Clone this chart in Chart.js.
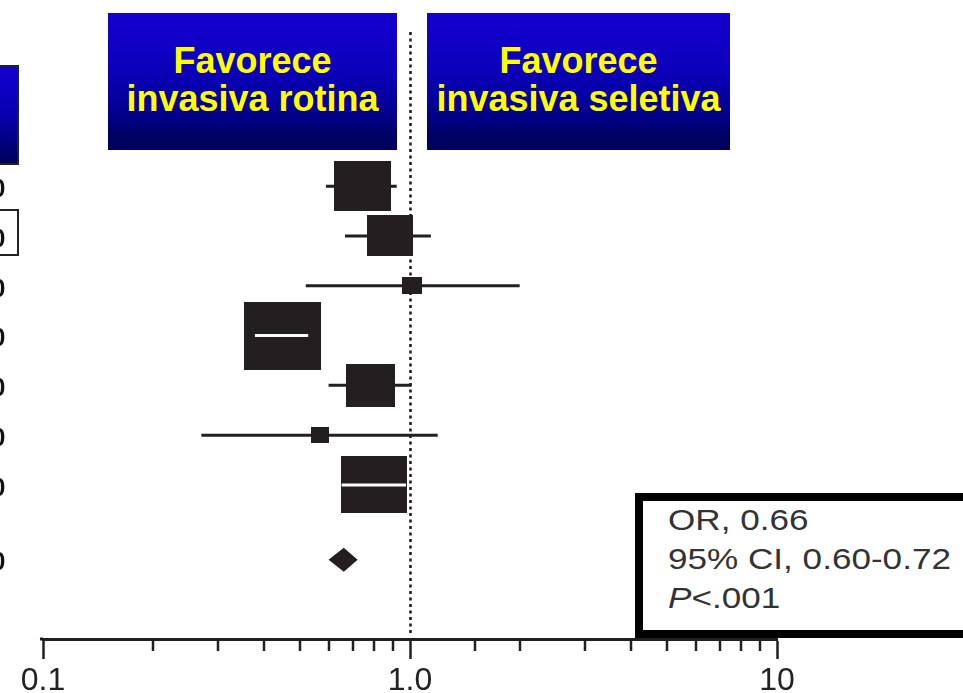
<!DOCTYPE html>
<html>
<head>
<meta charset="utf-8">
<script src="https://cdn.jsdelivr.net/npm/chart.js@4.4.1/dist/chart.umd.min.js"></script>
<style>
html,body{margin:0;padding:0;background:#fff;overflow:hidden;}
#wrap{position:relative;width:963px;height:693px;overflow:hidden;font-family:"Liberation Sans",Arial,Helvetica,sans-serif;background:#fff;}
#chart{position:absolute;left:0;top:0;}
.hdr{position:absolute;top:13px;height:137px;background:linear-gradient(to bottom,#1400d0 0%,#0c00bc 40%,#0500a0 62%,#00007e 80%,#000064 88%,#00005c 100%);}
.hdr div{position:absolute;left:0;right:0;top:29px;text-align:center;color:#ffff00;font-weight:bold;font-size:36px;line-height:38px;white-space:nowrap;}
#edgeBox{position:absolute;left:-20px;top:65px;width:35px;height:96px;border:2px solid #222;background:linear-gradient(to bottom,#1400d0 0%,#0800b0 50%,#000070 85%,#00005c 100%);}
#edgeBox2{position:absolute;left:-20px;top:209px;width:35px;height:43px;border:2px solid #222;background:#fff;}
.cut{position:absolute;left:-8.5px;font-weight:bold;font-size:25px;line-height:25px;color:#111;white-space:nowrap;}
#stats{position:absolute;left:635px;top:493px;width:400px;height:129px;border:8px solid #000;background:#fff;}
#statsText{position:absolute;left:668px;top:500px;font-size:30px;line-height:39px;color:#333;white-space:nowrap;transform:scaleX(1.17);transform-origin:0 0;}
</style>
</head>
<body>
<div id="wrap">
  <canvas id="chart" width="963" height="693"></canvas>
  <div id="edgeBox"></div>
  <div id="edgeBox2"></div>
  <div class="hdr" style="left:108px;width:289px;"><div>Favorece<br>invasiva rotina</div></div>
  <div class="hdr" style="left:427px;width:303px;"><div>Favorece<br>invasiva seletiva</div></div>
  <div id="stats"></div>
  <div id="statsText">OR, 0.66<br>95% CI, 0.60-0.72<br><i>P</i>&lt;.001</div>
</div>
<script>
// ---- data ----
const studies  = ["Estudo 1","Estudo 2","Estudo 3","Estudo 4","Estudo 5","Estudo 6","Estudo 7"];
const orValues = [0.74, 0.88, 1.01, 0.45, 0.78, 0.57, 0.80];
const ciLow    = [0.59, 0.665, 0.52, 0.378, 0.60, 0.27, 0.65];
const ciHigh   = [0.92, 1.14, 1.99, 0.528, 1.01, 1.19, 0.975];
const weights  = [17.2, 11.5, 2.1, 31.8, 12.8, 1.7, 22.9];
const pooledOR = 0.66, pooledLow = 0.60, pooledHigh = 0.72;
const refValue = 1;
const tickValues = [0.1, 1, 10];
const tickLabels = ["0.1", "1.0", "10"];

// ---- styling ----
const INK = '#231f20';
const KW = 13.7, KH = 12.0;          // box px per sqrt(weight)
const pooledRow = studies.length + 0.5;

const boxCache = {};
function boxCanvas(i){
  if (boxCache[i]) return boxCache[i];
  const s = Math.sqrt(weights[i]);
  const c = document.createElement('canvas');
  c.width = Math.max(2, Math.round(KW * s));
  c.height = Math.max(2, Math.round(KH * s));
  const g = c.getContext('2d');
  g.fillStyle = INK;
  g.fillRect(0, 0, c.width, c.height);
  boxCache[i] = c;
  return c;
}

const datasets = [];
studies.forEach((name, i) => {
  datasets.push({
    type: 'line',
    label: name + ' IC',
    data: [{x: ciLow[i], y: i}, {x: ciHigh[i], y: i}],
    borderColor: INK,
    borderWidth: 3,
    pointRadius: 0,
    fill: false,
    order: 2
  });
});
datasets.push({
  type: 'scatter',
  label: 'OR',
  data: orValues.map((v, i) => ({x: v, y: i})),
  pointStyle: (ctx) => boxCanvas(ctx.dataIndex),
  pointRadius: 5,
  order: 1
});

const forestPlugin = {
  id: 'forest',
  beforeDatasetsDraw(chart){
    const {ctx, chartArea, scales:{x}} = chart;
    const px = Math.round(x.getPixelForValue(refValue)) + 0.5;
    ctx.save();
    ctx.strokeStyle = INK;
    ctx.lineWidth = 2.6;
    ctx.setLineDash([3, 3.5]);
    ctx.beginPath();
    ctx.moveTo(px, 32);
    ctx.lineTo(px, chartArea.bottom - 3);
    ctx.stroke();
    ctx.restore();
  },
  afterDatasetsDraw(chart){
    const {ctx, scales:{x, y}} = chart;
    ctx.save();
    // white CI line where the interval lies inside its box
    studies.forEach((n, i) => {
      const cx = x.getPixelForValue(orValues[i]);
      const hw = KW * Math.sqrt(weights[i]) / 2;
      const lo = x.getPixelForValue(ciLow[i]);
      const hi = x.getPixelForValue(ciHigh[i]);
      if (lo >= cx - hw - 1.5 && hi <= cx + hw + 1.5) {
        const py = y.getPixelForValue(i);
        ctx.strokeStyle = '#ffffff';
        ctx.lineWidth = 3;
        ctx.beginPath();
        ctx.moveTo(Math.max(lo, cx - hw), py);
        ctx.lineTo(Math.min(hi, cx + hw), py);
        ctx.stroke();
      }
    });
    // pooled diamond
    const py = y.getPixelForValue(pooledRow);
    const l = x.getPixelForValue(pooledLow), c = x.getPixelForValue(pooledOR), r = x.getPixelForValue(pooledHigh);
    ctx.fillStyle = INK;
    ctx.beginPath();
    ctx.moveTo(l, py);
    ctx.lineTo(c, py - 12);
    ctx.lineTo(r, py);
    ctx.lineTo(c, py + 12);
    ctx.closePath();
    ctx.fill();
    ctx.restore();
  },
  afterDraw(chart){
    const {ctx, scales:{x}} = chart;
    ctx.save();
    ctx.strokeStyle = INK;
    ctx.lineWidth = 2.5;
    x.ticks.forEach(t => {
      if (tickValues.some(v => Math.abs(v - t.value) < 1e-9)) return;
      const px = Math.round(x.getPixelForValue(t.value));
      ctx.beginPath();
      ctx.moveTo(px, x.top);
      ctx.lineTo(px, x.top + 12);
      ctx.stroke();
    });
    // axis line starts a little before the first tick
    ctx.lineWidth = 3;
    ctx.beginPath();
    ctx.moveTo(x.left - 3, x.top);
    ctx.lineTo(x.left, x.top);
    ctx.stroke();
    ctx.restore();
  }
};

const isMajor = v => tickValues.some(t => Math.abs(t - v) < 1e-9);

const chart = new Chart(document.getElementById('chart'), {
  data: { datasets },
  options: {
    responsive: false,
    animation: false,
    events: [],
    layout: { padding: { left: 43, right: 186, top: 0, bottom: 0 } },
    plugins: { legend: { display: false }, tooltip: { enabled: false } },
    scales: {
      x: {
        type: 'logarithmic',
        min: 0.1,
        max: 10,
        position: 'bottom',
        afterFit(scale){ scale.height = 54; },
        border: { display: true, color: INK, width: 3 },
        grid: {
          display: true,
          drawOnChartArea: false,
          drawTicks: true,
          tickLength: 20,
          tickWidth: 2.5,
          tickColor: (ctx) => (ctx.tick && isMajor(ctx.tick.value)) ? INK : 'rgba(0,0,0,0)'
        },
        ticks: {
          autoSkip: false,
          maxRotation: 0,
          padding: 3,
          color: '#222',
          font: { family: '"Liberation Sans", Arial, sans-serif', size: 32 },
          callback: (v) => {
            const k = tickValues.findIndex(t => Math.abs(t - v) < 1e-9);
            return k >= 0 ? tickLabels[k] : '';
          }
        }
      },
      y: {
        type: 'linear',
        display: false,
        reverse: true,
        min: -3.618,
        max: 9.094
      }
    }
  },
  plugins: [forestPlugin]
});

// clipped row-label glyphs at the left edge (labels run off the picture)
const wrap = document.getElementById('wrap');
const rows = studies.map((s, i) => i).concat([pooledRow]);
rows.forEach(r => {
  const py = chart.scales.y.getPixelForValue(r);
  const sp = document.createElement('span');
  sp.className = 'cut';
  sp.textContent = '0';
  sp.style.top = (py + 2 - 12.2) + 'px';
  wrap.appendChild(sp);
});
</script>
</body>
</html>
